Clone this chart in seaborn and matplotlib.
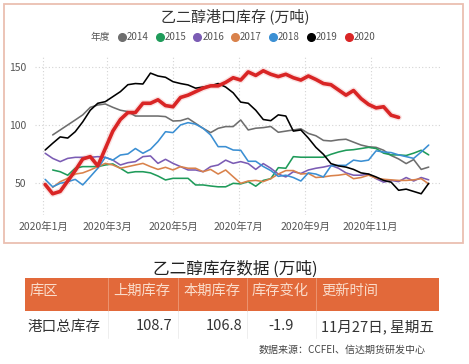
import numpy as np
import pandas as pd
import matplotlib
matplotlib.use("Agg")
import matplotlib.pyplot as plt
import matplotlib.dates as mdates
from matplotlib.lines import Line2D
from matplotlib.patches import Rectangle
import seaborn as sns

nan = np.nan
# ---------------- data ----------------
week_dates = pd.date_range("2020-01-03", periods=52, freq="7D")
years = ["2014", "2015", "2016", "2017", "2018", "2019", "2020"]
y2014 = [nan, 91.7, 96, 100.3, 104.6, 109, 115.5, 117.5, 118.4, 115.5, 113, 111.8, 108, 108, 108, 108,
         107.5, 103.7, 104, 106, 101.7, 97.4, 93.7, 97.4, 98.9, 98.9,
         104.6, 96, 97.5, 98, 99, 94, 95, 96, 97, 93, 91, 87, 86.5, 87.5, 88, 85.5, 83, 81.5, 81,
         78.5, 74, 71, 67, 70.5, 62, 64]
y2015 = [nan, 61.5, 60, 57, 63, 64.4, 64.4, 64.4, 65.8, 66.7, 63, 59, 60, 60, 59, 56.3, 52.9, 54.3,
         54.3, 54.3, 48.6, 48.6, 47.7, 47, 47, 50,
         49.5, 51.5, 47.5, 52.5, 54, 63.5, 63, 73, 72.5, 72.5, 72.5, 72.5, 75, 77, 78.5, 79, 80, 81,
         80, 76, 74.5, 74.5, 74, 76, 78.5, 74.5]
y2016 = [75.9, 71.5, 68.7, 71.5, 72.4, 72.4, 72.4, 73, 72.4, 70, 65.8, 67.8, 68.7, 73, 73.6, 67.2,
         70.7, 67.2, 64.4, 61.5, 61.5, 60, 64.4, 65.8, 70, 67.2,
         68.7, 67, 62, 67, 63, 58, 55.5, 60, 58.5, 61.5, 63, 64, 65.5, 63, 59, 57, 57, 58, 54, 51,
         52.5, 51.5, 55, 52, 55, 53]
y2017 = [nan, 46.5, 51.4, 54.3, 58, 59, 61.5, 64.4, 67.2, 65.8, 63, 64.4, 65.8, 67.2, 64.4, 62,
         63.8, 61.5, 64.4, 63, 63, 60, 62, 58, 61.5, 55.7,
         50, 52, 52.5, 51.5, 54, 58, 61, 61, 58, 58.5, 55, 55.5, 56.5, 57, 58, 54, 55, 57, 54.5,
         53.5, 53, 52.5, 52.5, 53, 54, 49.5]
y2018 = [53.4, 47, 50, 51.4, 53.4, 48.6, 55.7, 63, 72.4, 70, 74.4, 75.3, 80, 75.9, 79.3, 86, 94.5,
         93.7, 100.3, 102.3, 101, 97.4, 91.7, 81.6, 81.6, 78.7,
         78.5, 69, 69, 64.5, 61, 56, 57, 55, 52, 59, 58, 55.5, 65, 65.5, 65.5, 70, 69, 70, 78, 77,
         76.5, 74.5, 73, 71.5, 77, 83]
y2019 = [78.7, 84.5, 90, 89, 94.5, 103, 113, 119, 120.4, 124.7, 129, 135, 136, 135.6, 145, 142.5,
         141.4, 137.6, 136, 134.8, 132, 133, 134, 136, 133, 128,
         120, 119, 113, 105, 104, 109, 108, 95, 96, 89, 81, 75, 67, 65, 64, 62, 59, 58, 55.5, 52.5,
         51, 44, 45, 43, 41, 50]
y2020 = [49, 41, 43, 52, 61, 71, 73, 65, 80, 95, 105, 111, 111, 119, 119, 122, 117, 116, 124, 126,
         129, 132, 134, 134, 137, 141, 139, 146, 143, 147, 144, 142, 144, 141, 139, 142.5, 139.5,
         136, 135, 130.5, 126, 130, 123, 118, 115, 116, 108.7, 106.8, nan, nan, nan, nan]
series = [y2014, y2015, y2016, y2017, y2018, y2019, y2020]

tick_dates = ["2020-01-01", "2020-03-01", "2020-05-01", "2020-07-01", "2020-09-01", "2020-11-01"]
tick_labels = ["2020年1月", "2020年3月", "2020年5月", "2020年7月", "2020年9月", "2020年11月"]
y_ticks = [50, 100, 150]

table_header = ["库区", "上期库存", "本期库存", "库存变化", "更新时间"]
table_row = ["港口总库存", "108.7", "106.8", "-1.9", "11月27日, 星期五"]

colors = {"2014": "#6e6e6e", "2015": "#1f9b5a", "2016": "#7b5cb4", "2017": "#d9824b",
          "2018": "#3b8fd3", "2019": "#000000", "2020": "#d92525"}

df = pd.concat([pd.DataFrame({"date": week_dates, "value": s, "year": y})
                for y, s in zip(years, series)], ignore_index=True).dropna()

# ---------------- figure ----------------
sns.set_theme(style="white")
plt.rcParams["font.family"] = ["Noto Sans CJK SC", "DejaVu Sans"]
plt.rcParams["axes.unicode_minus"] = False

W, H = 469, 364
fig = plt.figure(figsize=(W / 100, H / 100), dpi=100)
fig.patch.set_facecolor("white")

def fx(px):
    return px / W

def fy(py):
    return 1 - py / H

# outer border of the chart panel
fig.add_artist(Rectangle((fx(4), fy(243)), fx(459), (239) / H, transform=fig.transFigure,
                         fill=False, edgecolor="#ebbfb1", linewidth=1.3))

ax = fig.add_axes([fx(35), fy(215), fx(405), 160 / H])
ax.set_facecolor("white")

# soft glow beneath 2020
sns.lineplot(data=df[df.year == "2020"], x="date", y="value", color="#e86060", alpha=0.18,
             linewidth=4.6, ax=ax, legend=False, estimator=None)
sns.lineplot(data=df, x="date", y="value", hue="year", palette=colors, size="year",
             sizes={y: (2.6 if y == "2020" else 1.15) for y in years},
             ax=ax, legend=False, estimator=None)

jan1 = mdates.date2num(pd.Timestamp("2020-01-01"))
ax.set_xlim(jan1 - 7.45, jan1 + 369.5)
ax.set_ylim(22.7, 160.6)
ax.set_xticks([mdates.date2num(pd.Timestamp(d)) for d in tick_dates])
ax.set_xticklabels(tick_labels)
ax.set_yticks(y_ticks)
ax.set_yticklabels([str(v) for v in y_ticks])
ax.tick_params(axis="x", length=0, pad=5, labelsize=7.5, colors="#555555")
ax.tick_params(axis="y", length=0, pad=6, labelsize=7.5, colors="#555555")
ax.set_xlabel("")
ax.set_ylabel("")
ax.grid(True, linestyle=(0, (1, 2)), color="#d4d4d4", linewidth=0.8)
for s in ax.spines.values():
    s.set_visible(False)

# title
fig.text(fx(235), fy(16), "乙二醇港口库存 (万吨)", ha="center", va="center",
         fontsize=10.8, color="#333333")

# legend row
fig.text(fx(91), fy(36.7), "年度", ha="left", va="center", fontsize=7, color="#555555",
         fontweight="medium")
for i, y in enumerate(years):
    cx = 121.7 + 37.8 * i
    fig.add_artist(Line2D([fx(cx)], [fy(36.7)], marker="o", markersize=5.5, linestyle="none",
                          color=colors[y], transform=fig.transFigure))
    fig.text(fx(cx + 5), fy(36.7), y, ha="left", va="center", fontsize=7, color="#555555")

# ---------------- table ----------------
fig.text(fx(235), fy(269), "乙二醇库存数据 (万吨)", ha="center", va="center",
         fontsize=12, color="#222222")
col_edges = [25, 108, 178, 247, 316, 439]
fig.add_artist(Rectangle((fx(25), fy(311)), fx(414), 33 / H, transform=fig.transFigure,
                         facecolor="#e2693a", edgecolor="none"))
for xe in col_edges[1:-1]:
    fig.add_artist(Line2D([fx(xe), fx(xe)], [fy(278), fy(311)], color="#ec9470", linewidth=0.7,
                          transform=fig.transFigure))
    fig.add_artist(Line2D([fx(xe), fx(xe)], [fy(311), fy(338)], color="#eeeeee", linewidth=0.7,
                          transform=fig.transFigure))
for i, h in enumerate(table_header):
    fig.text(fx(col_edges[i] + 5), fy(291), h, ha="left", va="center", fontsize=10.3,
             color="#fadccb")
row_pos = [(col_edges[0] + 3, "left"), (172, "right"), (242, "right"),
           ((col_edges[3] + col_edges[4]) / 2, "center"), (col_edges[4] + 5, "left")]
for (xp, al), txt in zip(row_pos, table_row):
    fig.text(fx(xp), fy(326.5), txt, ha=al, va="center", fontsize=10.5, color="#333333")

fig.text(fx(426), fy(349.5), "数据来源：CCFEI、信达期货研发中心", ha="right", va="center",
         fontsize=7.2, color="#444444")

fig.savefig("out.png", dpi=100, facecolor="white")
